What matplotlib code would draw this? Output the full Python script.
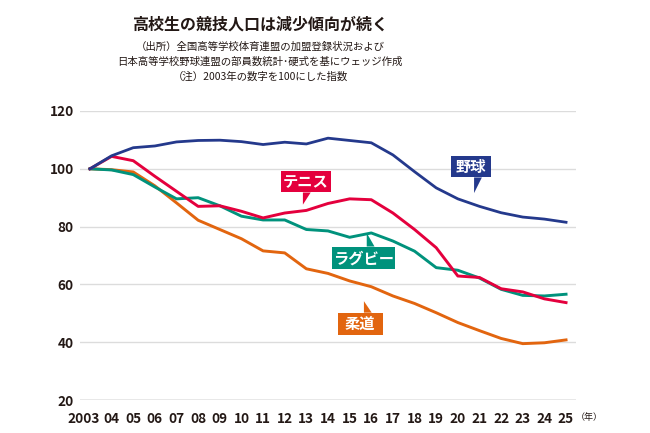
import numpy as np
import matplotlib
matplotlib.use('Agg')
import matplotlib.pyplot as plt
from matplotlib.patches import Rectangle, Polygon
import matplotlib.transforms as mtransforms

plt.rcParams['font.family'] = ['Noto Sans CJK JP', 'DejaVu Sans']

years = np.arange(2003, 2026)
tick_labels = ['2003'] + ['%02d' % (y % 100) for y in years[1:]]

baseball = [100, 104.5, 107.3, 107.9, 109.3, 109.8, 109.9, 109.4, 108.4, 109.2, 108.6, 110.6,
            109.8, 109.0, 104.8, 99.0, 93.4, 89.6, 87.0, 84.8, 83.3, 82.6, 81.5]
tennis = [100, 104.3, 102.8, 97.4, 92.2, 87.0, 87.2, 85.3, 83.0, 84.7, 85.6, 88.0,
          89.6, 89.3, 84.7, 79.0, 72.7, 62.9, 62.4, 58.5, 57.4, 55.0, 53.7]
rugby = [100, 99.6, 98.0, 93.7, 89.6, 90.0, 87.2, 83.6, 82.3, 82.3, 79.0, 78.5,
         76.3, 77.8, 75.0, 71.5, 65.8, 64.9, 62.2, 58.3, 56.2, 56.0, 56.6]
judo = [100, 99.7, 98.9, 94.1, 88.2, 82.2, 79.0, 75.8, 71.6, 70.9, 65.4, 63.8,
        61.2, 59.2, 56.0, 53.4, 50.2, 46.8, 44.0, 41.3, 39.5, 39.8, 40.8]

c_base = '#24398c'
c_ten = '#e4003d'
c_rug = '#00927c'
c_judo = '#e2650f'
txt = '#231815'

fig = plt.figure(figsize=(6.5, 4.33), dpi=100)
ax = fig.add_axes([80 / 650, 33 / 433, 496 / 650, 289 / 433])

for y in range(40, 121, 20):
    ax.axhline(y, color='#dcdcdc', lw=1.0, zorder=0)
ax.axhline(20, color='#8c8c8c', lw=1.0, zorder=0)

ax.plot(years, judo, color=c_judo, lw=2.1, zorder=3)
ax.plot(years, rugby, color=c_rug, lw=2.1, zorder=4)
ax.plot(years, tennis, color=c_ten, lw=2.1, zorder=5)
ax.plot(years, baseball, color=c_base, lw=2.0, zorder=6)

ax.set_xlim(2002.54, 2025.46)
ax.set_ylim(20, 120)
for s in ax.spines.values():
    s.set_visible(False)

ax.set_yticks(range(20, 121, 20))
ax.set_yticklabels([str(v) for v in range(20, 121, 20)],
                   fontsize=9.8, fontweight='bold', color=txt)
ax.set_xticks(years)
ax.set_xticklabels(tick_labels, fontsize=9.8, fontweight='bold', color=txt)
ax.tick_params(axis='both', length=0)
ax.tick_params(axis='y', pad=4.5)
ax.tick_params(axis='x', pad=8.5)
# 2003 sits a bit left of its point in the original
lab0 = ax.get_xticklabels()[0]
lab0.set_transform(lab0.get_transform() + mtransforms.ScaledTranslation(-6 / 100, 0, fig.dpi_scale_trans))

ax.annotate('（年）', xy=(2025, 0), xycoords=('data', 'axes fraction'),
            xytext=(7, -12.5), textcoords='offset points', fontsize=6.5,
            color=txt, ha='left', va='center')


def tag(cx, cy, w, h, text, color, tip_x, tip_y):
    ax.add_patch(Rectangle((cx - w / 2, cy - h / 2), w, h, facecolor=color,
                           edgecolor='none', zorder=8, clip_on=False))
    edge = cy - h / 2 if tip_y < cy else cy + h / 2
    ax.add_patch(Polygon([(tip_x, edge), (tip_x + 0.36, edge), (tip_x, tip_y)],
                         closed=True, facecolor=color, edgecolor='none', zorder=8))
    ax.text(cx, cy - 0.3, text, color='white', fontsize=11, fontweight='bold',
            ha='center', va='center', zorder=9)


tag(2020.62, 100.8, 1.85, 7.6, '野球', c_base, 2020.75, 91.6)
tag(2012.98, 95.6, 2.31, 7.6, 'テニス', c_ten, 2012.84, 87.6)
tag(2015.63, 69.2, 2.91, 7.8, 'ラグビー', c_rug, 2015.79, 77.8)
tag(2015.49, 46.3, 2.08, 7.85, '柔道', c_judo, 2015.66, 54.2)

cx = 0.40
fig.text(cx, 1 - 25 / 433, '高校生の競技人口は減少傾向が続く', fontsize=11.5,
         fontweight='bold', color=txt, ha='center', va='center')
fig.text(cx, 1 - 47 / 433, '（出所）全国高等学校体育連盟の加盟登録状況および',
         fontsize=7.5, color=txt, ha='center', va='center')
fig.text(cx, 1 - 62 / 433, '日本高等学校野球連盟の部員数統計･硬式を基にウェッジ作成',
         fontsize=7.5, color=txt, ha='center', va='center')
fig.text(cx, 1 - 77 / 433, '（注）2003年の数字を100にした指数',
         fontsize=7.5, color=txt, ha='center', va='center')

fig.savefig('out.png', dpi=100)
